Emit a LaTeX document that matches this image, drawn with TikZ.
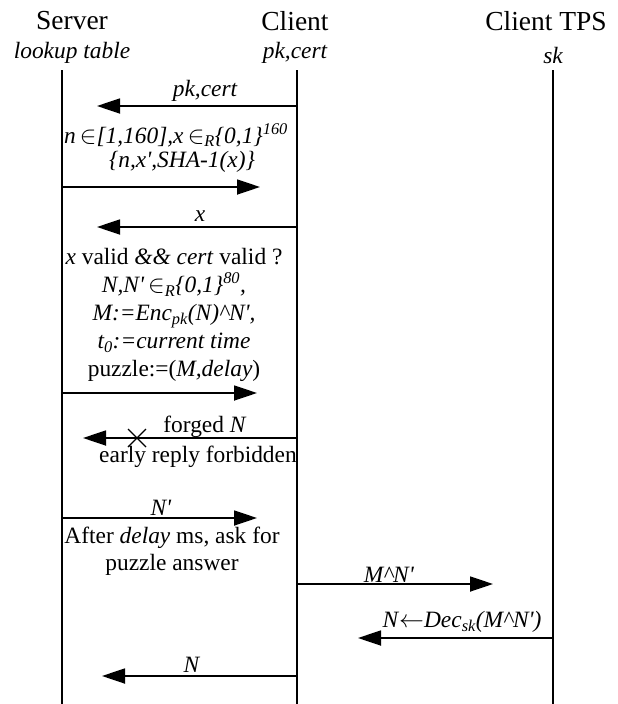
\documentclass[tikz,border=0pt]{standalone}
\usepackage{fontspec}
\setmainfont{Liberation Serif}
\usepackage{tikz}
\usetikzlibrary{arrows.meta, positioning}

\newcommand{\pr}{\textquotesingle}

\tikzset{
  lifeline/.style={line width=1.4pt},
  msg/.style={line width=1.8pt, -{Triangle[length=23pt, width=15pt]}},
  party/.style={inner sep=0pt, font=\fontsize{27.5}{30}\selectfont},
  note/.style={inner sep=0pt, align=center, font=\fontsize{23.4}{28}\selectfont},
  inote/.style={note, font=\fontsize{23.4}{28}\selectfont\itshape},
}

\begin{document}
\begin{tikzpicture}[x=1pt, y=-1pt]
\useasboundingbox (0,0) rectangle (618,704);

% parties
\node[party] (srv) at (72,21) {Server};
\node[party] (cli) at (295,21) {Client};
\node[party] (tps) at (546,21) {Client TPS};
\node[inote] (srvinfo) at (72,53) {lookup table};
\node[inote] (cliinfo) at (295,53) {pk,cert};
\node[inote] (tpsinfo) at (553,55) {sk};

% lifelines
\coordinate (srvtop) at (62,70);  \coordinate (srvbot) at (62,704);
\coordinate (clitop) at (297,70); \coordinate (clibot) at (297,704);
\coordinate (tpstop) at (553,70); \coordinate (tpsbot) at (553,704);
\draw[lifeline] (srvtop) -- (srvbot);
\draw[lifeline] (clitop) -- (clibot);
\draw[lifeline] (tpstop) -- (tpsbot);

% certificate
\coordinate (m1a) at (297,106); \coordinate (m1b) at (97,106);
\draw[msg] (m1a) -- (m1b);
\node[inote] (lbl1) at (205,91) {pk,cert};

% challenge
\node[inote] (chal) at (176,135)
  {n$\,\in$[1,160],x$\,\in$\textsubscript{R}\{0,1\}\textsuperscript{160}};
\node[inote] (lbl2) at (182,162) {\{n,x\pr,SHA-1(x)\}};
\coordinate (m2a) at (62,187); \coordinate (m2b) at (260,187);
\draw[msg] (m2a) -- (m2b);

% answer x
\node[inote] (lbl3) at (200,216) {x};
\coordinate (m3a) at (297,227); \coordinate (m3b) at (97,227);
\draw[msg] (m3a) -- (m3b);

% puzzle
\node[note] (check) at (174,315)
  {\textit{x} valid \textit{\&\&} \textit{cert} valid ?\\
   \textit{N,N\pr$\,\in$\textsubscript{R}\{0,1\}\textsuperscript{80},}\\
   \textit{M:=Enc\textsubscript{pk}(N)\textasciicircum N\pr,}\\
   \textit{t\textsubscript{0}:=current time}\\
   puzzle:=(\textit{M,delay})};
\coordinate (m4a) at (62,393); \coordinate (m4b) at (257,393);
\draw[msg] (m4a) -- (m4b);

% forged reply
\node[note] (lbl5) at (205,427) {forged \textit{N}};
\coordinate (m5a) at (297,438); \coordinate (m5b) at (83,438);
\draw[msg] (m5a) -- (m5b);
\coordinate (cross) at (137,438);
\draw[line width=1.2pt] ([shift={(-9,-9)}]cross) -- ([shift={(9,9)}]cross)
  ([shift={(-9,9)}]cross) -- ([shift={(9,-9)}]cross);
\node[note] (early) at (198,457) {early reply forbidden};

% N'
\node[note] (lbl6) at (161,508) {\textit{N\pr}};
\coordinate (m6a) at (62,518); \coordinate (m6b) at (257,518);
\draw[msg] (m6a) -- (m6b);
\node[note, font=\fontsize{23.4}{26.5}\selectfont] (ask) at (172,551) {After \textit{delay} ms, ask for\\ puzzle answer};

% TPS
\node[note] (lbl7) at (389,575) {\textit{M\textasciicircum N\pr}};
\coordinate (m7a) at (297,584); \coordinate (m7b) at (493,584);
\draw[msg] (m7a) -- (m7b);
\node[note] (lbl8) at (462,622) {\textit{N}$\leftarrow$\textit{Dec\textsubscript{sk}(M\textasciicircum N\pr)}};
\coordinate (m8a) at (553,638); \coordinate (m8b) at (358,638);
\draw[msg] (m8a) -- (m8b);

% final answer
\node[note] (lbl9) at (192,665) {\textit{N}};
\coordinate (m9a) at (297,676); \coordinate (m9b) at (102,676);
\draw[msg] (m9a) -- (m9b);
\end{tikzpicture}
\end{document}
